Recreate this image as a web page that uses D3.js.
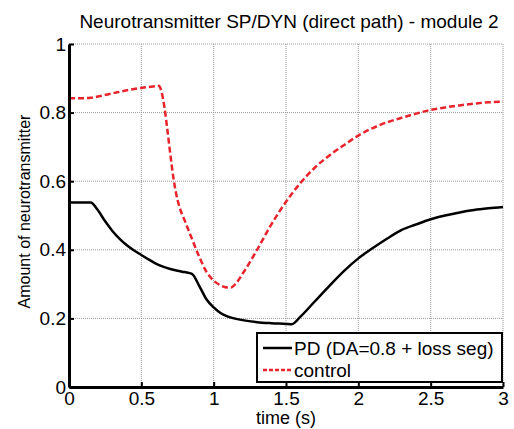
<!DOCTYPE html>
<html>
<head>
<meta charset="utf-8">
<script src="https://cdn.jsdelivr.net/npm/d3@7"></script>
<style>
  body { margin: 0; background: #fff; }
  text { font-family: "Liberation Sans", Arial, sans-serif; fill: #000; }
</style>
</head>
<body>
<svg width="514" height="429"></svg>
<script>
// data
var pd_t = [0, 0.15, 0.2, 0.25, 0.3, 0.35, 0.4, 0.45, 0.5, 0.55, 0.6, 0.65, 0.7, 0.75, 0.8, 0.85,
  0.9, 0.95, 1.0, 1.05, 1.1, 1.2, 1.3, 1.4, 1.5, 1.54, 1.6, 1.7, 1.8, 1.9, 2.0, 2.1, 2.2, 2.3,
  2.4, 2.5, 2.6, 2.7, 2.8, 2.9, 3.0];
var pd_v = [0.538, 0.538, 0.515, 0.483, 0.455, 0.432, 0.413, 0.398, 0.385, 0.372, 0.36, 0.351,
  0.344, 0.339, 0.335, 0.33, 0.295, 0.256, 0.232, 0.215, 0.205, 0.195, 0.189, 0.186, 0.184, 0.183,
  0.205, 0.25, 0.295, 0.338, 0.375, 0.405, 0.433, 0.458, 0.474, 0.489, 0.5, 0.509, 0.516, 0.521, 0.525];

var ctrl_t = [0, 0.1, 0.15, 0.2, 0.3, 0.4, 0.5, 0.6, 0.62, 0.64, 0.66, 0.68, 0.7, 0.72, 0.74, 0.76,
  0.8, 0.85, 0.9, 0.95, 1.0, 1.05, 1.1, 1.12, 1.15, 1.2, 1.3, 1.4, 1.5, 1.6, 1.7, 1.8, 1.9, 2.0,
  2.1, 2.2, 2.3, 2.4, 2.5, 2.6, 2.7, 2.8, 2.9, 3.0];
var ctrl_v = [0.842, 0.842, 0.843, 0.847, 0.856, 0.865, 0.872, 0.877, 0.878, 0.86, 0.815, 0.75,
  0.68, 0.615, 0.565, 0.53, 0.485, 0.432, 0.38, 0.336, 0.31, 0.296, 0.29, 0.29, 0.3, 0.33, 0.4,
  0.475, 0.54, 0.595, 0.64, 0.675, 0.705, 0.733, 0.755, 0.772, 0.785, 0.797, 0.808, 0.815, 0.821,
  0.826, 0.83, 0.832];

var x_ticks = [0, 0.5, 1, 1.5, 2, 2.5, 3];
var y_ticks = [0, 0.2, 0.4, 0.6, 0.8, 1];
var legend_labels = ["PD (DA=0.8 + loss seg)", "control"];

var RED = "#e8232b";

var m = { top: 44, right: 11, bottom: 42, left: 69 };
var w = 514 - m.left - m.right;
var h = 429 - m.top - m.bottom;

var svg = d3.select("svg");
var g = svg.append("g").attr("transform", `translate(${m.left},${m.top})`);

var x = d3.scaleLinear().domain([0, 3]).range([0, w]);
var y = d3.scaleLinear().domain([0, 1]).range([h, 0]);

// grid
g.append("g").selectAll("line")
  .data(x_ticks.slice(1))
  .enter().append("line")
  .attr("x1", d => x(d)).attr("x2", d => x(d))
  .attr("y1", 0).attr("y2", h)
  .attr("stroke", "#999").attr("stroke-width", 1).attr("stroke-dasharray", "1,1");
g.append("g").selectAll("line")
  .data(y_ticks.slice(1))
  .enter().append("line")
  .attr("x1", 0).attr("x2", w)
  .attr("y1", d => y(d)).attr("y2", d => y(d))
  .attr("stroke", "#999").attr("stroke-width", 1).attr("stroke-dasharray", "1,1");

// lines
var line = d3.line().curve(d3.curveMonotoneX).x(d => x(d[0])).y(d => y(d[1]));
g.append("path")
  .datum(pd_t.map((t, i) => [t, pd_v[i]]))
  .attr("d", line)
  .attr("fill", "none").attr("stroke", "#000").attr("stroke-width", 2.5)
  .attr("stroke-linejoin", "round");
g.append("path")
  .datum(ctrl_t.map((t, i) => [t, ctrl_v[i]]))
  .attr("d", line)
  .attr("fill", "none").attr("stroke", RED).attr("stroke-width", 2.5)
  .attr("stroke-dasharray", "6,3");

// axes
var xAxis = g.append("g").attr("transform", `translate(0,${h})`)
  .call(d3.axisBottom(x).tickValues(x_ticks).tickFormat(d3.format("")).tickSizeInner(-5).tickSizeOuter(0).tickPadding(5));
var yAxis = g.append("g")
  .call(d3.axisLeft(y).tickValues(y_ticks).tickFormat(d3.format("")).tickSizeInner(-5).tickSizeOuter(0).tickPadding(3));
[xAxis, yAxis].forEach(a => {
  a.select(".domain").attr("stroke-width", 3);
  a.selectAll(".tick line").attr("stroke-width", 2);
  a.selectAll(".tick text").style("font-size", "19px").attr("font-family", null);
});
xAxis.selectAll(".tick text").attr("dy", "0.68em");

// legend
var lg = g.append("g").attr("transform", `translate(${257 - m.left},${333 - m.top})`);
lg.append("rect").attr("width", 245).attr("height", 49)
  .attr("fill", "#fff").attr("stroke", "#000").attr("stroke-width", 2);
legend_labels.forEach((lab, i) => {
  var yy = 15 + i * 22;
  lg.append("line").attr("x1", 6).attr("x2", 35).attr("y1", yy).attr("y2", yy)
    .attr("stroke", i === 0 ? "#000" : RED).attr("stroke-width", 2.5)
    .attr("stroke-dasharray", i === 0 ? null : "4,2");
  lg.append("text").attr("x", 37).attr("y", yy).attr("dy", "0.36em")
    .style("font-size", "19px").text(lab);
});

// titles
svg.append("text").attr("x", m.left + w / 2 + 3).attr("y", 28)
  .attr("text-anchor", "middle").style("font-size", "19px")
  .text("Neurotransmitter SP/DYN (direct path) - module 2");
svg.append("text").attr("x", m.left + w / 2).attr("y", 424)
  .attr("text-anchor", "middle").style("font-size", "18px")
  .text("time (s)");
svg.append("text").attr("transform", `translate(30,${m.top + h / 2 - 4}) rotate(-90)`)
  .attr("text-anchor", "middle").style("font-size", "16px")
  .text("Amount of neurotransmitter");
</script>
</body>
</html>
